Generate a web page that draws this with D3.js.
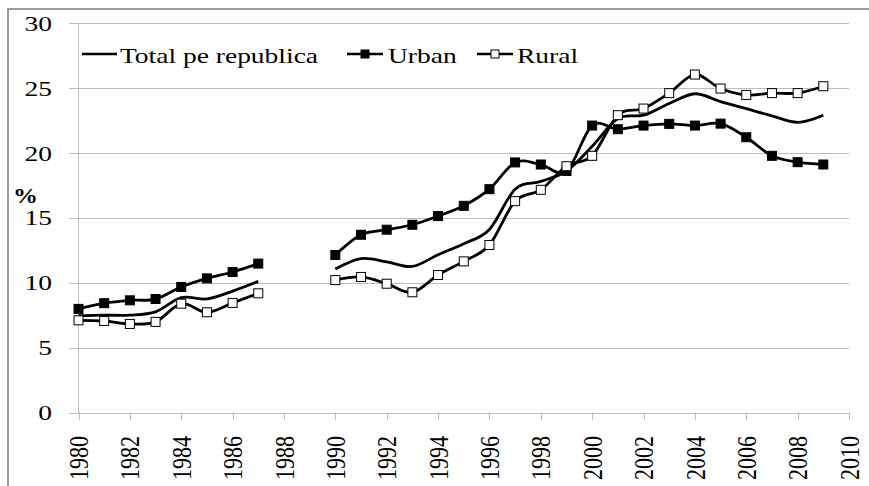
<!DOCTYPE html>
<html>
<head>
<meta charset="utf-8">
<script src="https://cdn.jsdelivr.net/npm/d3@7"></script>
<style>
  body { margin: 0; background: #fff; }
  svg { display: block; font-family: "Liberation Serif", "Times New Roman", serif; }
</style>
</head>
<body>
<svg id="chart" width="869" height="486"></svg>
<script>
// Years and series (null = no data, 1988-1989 gap)
var years = d3.range(1980, 2010);
var total = [7.45, 7.5, 7.5, 7.75, 8.85, 8.75, 9.35, 10.1, null, null,
             11.05, 11.85, 11.6, 11.25, 12.15, 13.0, 14.1, 17.2, 17.8, 18.6,
             20.5, 22.65, 22.9, 23.8, 24.55, 23.95, 23.4, 22.85, 22.35, 22.9];
var urban = [7.98, 8.42, 8.64, 8.74, 9.67, 10.33, 10.82, 11.47, null, null,
             12.13, 13.69, 14.08, 14.46, 15.13, 15.92, 17.2, 19.26, 19.1, 18.6,
             22.1, 21.82, 22.1, 22.23, 22.1, 22.25, 21.2, 19.77, 19.28, 19.1];
var rural = [7.1, 7.05, 6.82, 6.98, 8.38, 7.72, 8.44, 9.18, null, null,
             10.2, 10.44, 9.92, 9.26, 10.59, 11.64, 12.9, 16.28, 17.15, 18.97,
             19.77, 22.9, 23.41, 24.6, 26.03, 24.95, 24.46, 24.6, 24.6, 25.13];
var yTicks = [0, 5, 10, 15, 20, 25, 30];
var xTicks = d3.range(1980, 2011, 2);

var svg = d3.select("#chart");
var sx = 1.25; // horizontal text stretch seen in the picture
var grid = "#bdbdbd";

// outer frame
svg.append("line").attr("x1", 8).attr("x2", 869).attr("y1", 9).attr("y2", 9)
  .attr("stroke", "#9a9a9a").attr("stroke-width", 2);
svg.append("line").attr("x1", 8).attr("x2", 8).attr("y1", 8).attr("y2", 486)
  .attr("stroke", "#9a9a9a").attr("stroke-width", 2);

var x = d3.scaleLinear().domain([1980, 2010]).range([78.5, 849]);
var y = d3.scaleLinear().domain([0, 30]).range([412.5, 23]);

// y gridlines + ticks
var g = svg.append("g");
g.selectAll(".grid").data(yTicks).enter().append("line")
  .attr("x1", 69).attr("x2", 849)
  .attr("y1", d => Math.round(y(d)) + 0.5).attr("y2", d => Math.round(y(d)) + 0.5)
  .attr("stroke", grid).attr("stroke-width", 1);
// y axis line
g.append("line").attr("x1", 78.5).attr("x2", 78.5).attr("y1", 23).attr("y2", 413)
  .attr("stroke", grid);
// x ticks
g.selectAll(".xt").data(xTicks).enter().append("line")
  .attr("x1", d => Math.round(x(d)) + 0.5).attr("x2", d => Math.round(x(d)) + 0.5)
  .attr("y1", 412.5).attr("y2", 420)
  .attr("stroke", grid);

// y labels
g.selectAll(".yl").data(yTicks).enter().append("text")
  .attr("transform", d => `translate(52, ${y(d)}) scale(${sx},1)`)
  .attr("dy", "0.35em")
  .attr("text-anchor", "end")
  .attr("font-size", 22)
  .text(d => d);

// x labels
g.selectAll(".xl").data(xTicks).enter().append("text")
  .attr("transform", d => `translate(${x(d)}, 436) scale(${sx},1) rotate(-90)`)
  .attr("dy", "0.35em")
  .attr("text-anchor", "end")
  .attr("font-size", 22)
  .text(d => d);

// % label
svg.append("text")
  .attr("transform", `translate(13, 203) scale(${sx},1)`)
  .attr("font-size", 20).attr("font-weight", "bold")
  .text("%");

// lines
var line = d3.line()
  .defined(d => d[1] != null)
  .x(d => x(d[0])).y(d => y(d[1]))
  .curve(d3.curveCardinal.tension(0));

function pairs(vals) { return years.map((yr, i) => [yr, vals[i]]); }

[total, urban, rural].forEach(function(vals) {
  svg.append("path")
    .datum(pairs(vals))
    .attr("d", line)
    .attr("fill", "none")
    .attr("stroke", "#000")
    .attr("stroke-width", 2.8)
    .attr("stroke-linejoin", "round");
});

// markers
var ms = 9;
[[urban, "#000"], [rural, "#fff"]].forEach(function(s) {
  svg.append("g").selectAll("rect")
    .data(pairs(s[0]).filter(d => d[1] != null))
    .enter().append("rect")
    .attr("x", d => x(d[0]) - ms / 2).attr("y", d => y(d[1]) - ms / 2)
    .attr("width", ms).attr("height", ms)
    .attr("fill", s[1]).attr("stroke", "#000").attr("stroke-width", 1);
});

// legend
var leg = svg.append("g");
var ly = 54;
leg.append("line").attr("x1", 82).attr("x2", 117).attr("y1", ly).attr("y2", ly)
  .attr("stroke", "#000").attr("stroke-width", 2.5);
leg.append("text").attr("transform", `translate(120, 63) scale(${sx},1)`)
  .attr("font-size", 22).text("Total pe republica");

leg.append("line").attr("x1", 347).attr("x2", 383).attr("y1", ly).attr("y2", ly)
  .attr("stroke", "#000").attr("stroke-width", 2.5);
leg.append("rect").attr("x", 361).attr("y", ly - 4).attr("width", 8).attr("height", 8)
  .attr("fill", "#000").attr("stroke", "#000");
leg.append("text").attr("transform", `translate(388, 63) scale(${sx},1)`)
  .attr("font-size", 22).text("Urban");

leg.append("line").attr("x1", 477).attr("x2", 513).attr("y1", ly).attr("y2", ly)
  .attr("stroke", "#000").attr("stroke-width", 2.5);
leg.append("rect").attr("x", 491).attr("y", ly - 4).attr("width", 8).attr("height", 8)
  .attr("fill", "#fff").attr("stroke", "#000");
leg.append("text").attr("transform", `translate(517, 63) scale(${sx},1)`)
  .attr("font-size", 22).text("Rural");
</script>
</body>
</html>
